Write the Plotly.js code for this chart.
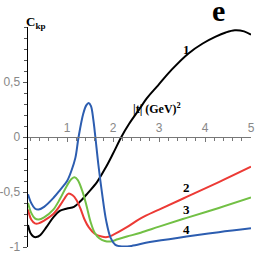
<!DOCTYPE html>
<html><head><meta charset="utf-8">
<script src="https://cdn.plot.ly/plotly-3.0.1.min.js"></script>
<style>html,body{margin:0;padding:0;background:#fff}#chart{width:278px;height:278px}</style>
</head><body><div id="chart"></div>
<script>
// Curve 1 (black)
const x1 = [0.15,0.2,0.27,0.33,0.42,0.55,0.7,0.85,1.0,1.15,1.3,1.45,1.65,1.85,2.0,2.18,2.35,2.55,2.75,2.98,3.27,3.64,3.95,4.22,4.45,4.65,4.85,5.0];
const y1 = [-0.80,-0.87,-0.905,-0.91,-0.89,-0.82,-0.73,-0.67,-0.65,-0.635,-0.58,-0.51,-0.41,-0.27,-0.15,0,0.12,0.24,0.36,0.47,0.61,0.76,0.85,0.91,0.95,0.97,0.96,0.93];
// Curve 2 (red)
const x2 = [0.15,0.22,0.3,0.38,0.5,0.7,0.85,0.95,1.03,1.12,1.2,1.29,1.38,1.47,1.6,1.75,1.87,2.0,2.3,2.6,3.0,3.6,4.3,5.0];
const y2 = [-0.66,-0.75,-0.785,-0.785,-0.76,-0.70,-0.62,-0.555,-0.515,-0.53,-0.57,-0.65,-0.75,-0.82,-0.88,-0.905,-0.91,-0.89,-0.82,-0.74,-0.66,-0.545,-0.41,-0.27];
// Curve 3 (green)
const x3 = [0.15,0.22,0.3,0.38,0.5,0.7,0.85,1.0,1.1,1.16,1.23,1.33,1.42,1.51,1.6,1.7,1.82,1.94,2.1,2.3,2.6,3.0,3.6,4.3,5.0];
const y3 = [-0.60,-0.69,-0.74,-0.75,-0.73,-0.66,-0.56,-0.44,-0.38,-0.365,-0.39,-0.49,-0.62,-0.77,-0.87,-0.92,-0.945,-0.95,-0.93,-0.905,-0.87,-0.815,-0.735,-0.645,-0.55];
// Curve 4 (blue)
const x4 = [0.15,0.22,0.3,0.38,0.5,0.71,0.85,1.0,1.1,1.18,1.25,1.35,1.42,1.47,1.52,1.57,1.615,1.68,1.76,1.85,1.95,2.05,2.2,2.4,2.8,3.6,4.3,5.0];
const y4 = [-0.52,-0.60,-0.65,-0.66,-0.635,-0.55,-0.48,-0.40,-0.30,-0.19,0.0,0.21,0.29,0.31,0.28,0.16,0.0,-0.25,-0.51,-0.76,-0.92,-0.98,-0.995,-0.99,-0.955,-0.905,-0.865,-0.83];

const yTickVals = [-1,-0.5,0,0.5];
const yTickText = ["-1","-0,5","0","0,5"];
const xTickVals = [1,2,3,4,5];
const xTickText = ["1","2","3","4","5"];

const curveLabels = ["1","2","3","4"];
const curveLabelX = [3.59,3.59,3.59,3.59];
const curveLabelY = [0.80,-0.455,-0.655,-0.845];

function tr(x,y,c){return {x:x,y:y,type:'scatter',mode:'lines',line:{color:c,width:2,shape:'spline',smoothing:1},hoverinfo:'skip',showlegend:false,cliponaxis:false};}
const data = [tr(x1,y1,'#000000'),tr(x2,y2,'#ec3a35'),tr(x3,y3,'#72c045'),tr(x4,y4,'#2c5db0')];

const serif = 'Liberation Serif, Times New Roman, serif';
const L=28,R=27,T=27,B=31,W=278,H=278;
const px = p => (p-L)/(W-L-R);
const py = p => (H-B-p)/(H-T-B);
const annotations = curveLabels.map((t,i)=>({x:curveLabelX[i],y:curveLabelY[i],xref:'x',yref:'y',xanchor:'center',yanchor:'middle',text:'<b>'+t+'</b>',showarrow:false,font:{family:serif,size:13,color:'#000'}}));
annotations.push({x:2.4,y:0.26,xref:'x',yref:'y',xanchor:'left',yanchor:'middle',text:'<b>|t| (GeV)<sup>2</sup></b>',showarrow:false,font:{family:serif,size:12,color:'#000'}});
annotations.push({x:px(24),y:py(22),xref:'paper',yref:'paper',xanchor:'left',yanchor:'middle',text:'<b>C<sub>kp</sub></b>',showarrow:false,font:{family:serif,size:13,color:'#000'}});
annotations.push({x:px(218),y:py(11),xref:'paper',yref:'paper',xanchor:'center',yanchor:'middle',text:'<b>e</b>',showarrow:false,font:{family:serif,size:30,color:'#000'}});

const layout = {
  width:W,height:H,margin:{l:L,r:R,t:T,b:B},
  paper_bgcolor:'#fff',plot_bgcolor:'#fff',
  xaxis:{range:[0.15,5],anchor:'free',position:0.5,side:'top',showgrid:false,zeroline:false,
    showline:true,linecolor:'#777',linewidth:1,ticks:'inside',ticklen:4,tickcolor:'#777',
    tickmode:'array',tickvals:xTickVals,ticktext:xTickText,
    minor:{tickmode:'linear',tick0:0,dtick:0.2,ticks:'inside',ticklen:3,tickcolor:'#777'},
    tickfont:{family:'Liberation Sans, Arial, sans-serif',size:12,color:'#888'}},
  yaxis:{range:[-1,1],showgrid:false,zeroline:false,showline:true,linecolor:'#000',linewidth:1.5,
    ticks:'outside',ticklen:4,tickcolor:'#555',tickmode:'array',tickvals:yTickVals,ticktext:yTickText,
    minor:{tickmode:'linear',tick0:0,dtick:0.1,ticks:'outside',ticklen:3,tickcolor:'#555'},
    tickfont:{family:'Liberation Sans, Arial, sans-serif',size:12,color:'#888'}},
  annotations:annotations
};
Plotly.newPlot('chart',data,layout,{staticPlot:true,displayModeBar:false});
</script></body></html>
